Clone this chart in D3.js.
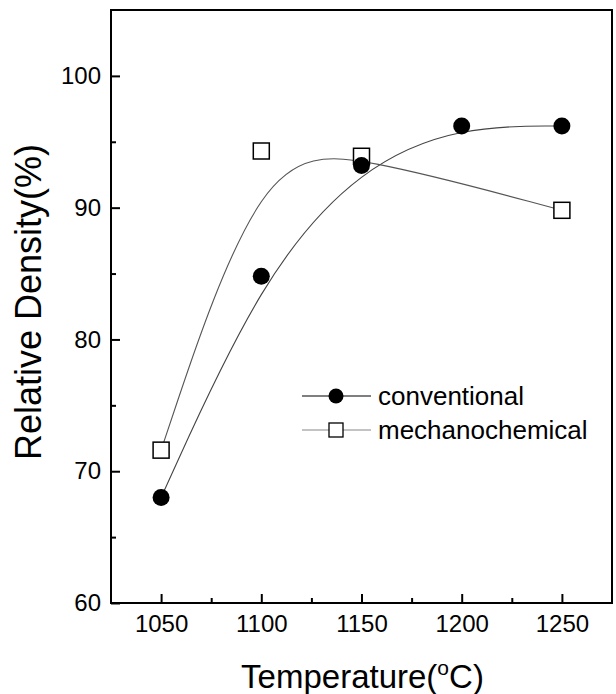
<!DOCTYPE html>
<html>
<head>
<meta charset="utf-8">
<script src="https://d3js.org/d3.v7.min.js"></script>
<style>
  body { margin: 0; background: #fff; }
  svg { display: block; font-family: Arial, "Liberation Sans", sans-serif; }
</style>
</head>
<body>
<div id="chart"></div>
<script>
// data
const temps = [1050, 1100, 1150, 1200, 1250];
const conventional = [68.0, 84.8, 93.2, 96.2, 96.2];
const mechTemps = [1050, 1100, 1150, 1250];
const mechanochemical = [71.6, 94.3, 93.9, 89.8];
const xTicks = [1050, 1100, 1150, 1200, 1250];
const yTicks = [60, 70, 80, 90, 100];

const width = 616, height = 694;
const margin = { top: 10, right: 4, bottom: 91, left: 111 };

const svg = d3.select("#chart").append("svg")
    .attr("width", width)
    .attr("height", height);

const x = d3.scaleLinear().domain([1025, 1275]).range([margin.left, width - margin.right]);
const y = d3.scaleLinear().domain([60, 105]).range([height - margin.bottom, margin.top]);

// minor ticks (inward)
const xMinor = d3.range(1075, 1275, 50);
const yMinor = d3.range(65, 105, 10);

const gx = svg.append("g")
    .attr("transform", `translate(0,${height - margin.bottom})`);
gx.call(d3.axisBottom(x).tickValues(xTicks).tickSize(-9).tickPadding(12).tickFormat(d3.format("d")));
gx.append("g").call(d3.axisBottom(x).tickValues(xMinor).tickSize(-5).tickFormat(""));

const gy = svg.append("g")
    .attr("transform", `translate(${margin.left},0)`);
gy.call(d3.axisLeft(y).tickValues(yTicks).tickSize(-9).tickPadding(10).tickFormat(d3.format("d")));
gy.append("g").call(d3.axisLeft(y).tickValues(yMinor).tickSize(-5).tickFormat(""));

svg.selectAll(".domain").remove();
svg.selectAll(".tick line").attr("stroke", "#000").attr("stroke-width", 2);
svg.selectAll(".tick text").attr("fill", "#000").style("font-size", "24px");

// frame
svg.append("rect")
    .attr("x", margin.left)
    .attr("y", margin.top)
    .attr("width", width - margin.left - margin.right)
    .attr("height", height - margin.top - margin.bottom)
    .attr("fill", "none")
    .attr("stroke", "#000")
    .attr("stroke-width", 2);

// smooth curves
const line = d3.line().x(d => x(d[0])).y(d => y(d[1])).curve(d3.curveBasis);
const convData = temps.map((t, i) => [t, conventional[i]]);
const mechData = mechTemps.map((t, i) => [t, mechanochemical[i]]);

svg.append("path")
    .datum(convData)
    .attr("d", line)
    .attr("fill", "none")
    .attr("stroke", "#444")
    .attr("stroke-width", 1.1);

svg.append("path")
    .datum(mechData)
    .attr("d", line)
    .attr("fill", "none")
    .attr("stroke", "#555")
    .attr("stroke-width", 1.1);

// markers
svg.append("g").selectAll("rect")
    .data(mechData)
    .join("rect")
    .attr("x", d => x(d[0]) - 8)
    .attr("y", d => y(d[1]) - 8)
    .attr("width", 16)
    .attr("height", 16)
    .attr("fill", "#fff")
    .attr("stroke", "#000")
    .attr("stroke-width", 1.5);

svg.append("g").selectAll("circle")
    .data(convData)
    .join("circle")
    .attr("cx", d => x(d[0]))
    .attr("cy", d => y(d[1]))
    .attr("r", 8.5)
    .attr("fill", "#000");

// legend
const legend = svg.append("g").attr("transform", "translate(302,396)");
legend.append("line").attr("x1", 0).attr("x2", 69).attr("y1", 0).attr("y2", 0)
    .attr("stroke", "#000").attr("stroke-width", 1.1);
legend.append("circle").attr("cx", 34).attr("cy", 0).attr("r", 7.5).attr("fill", "#000");
legend.append("text").attr("x", 76).attr("y", 9).text("conventional")
    .style("font-size", "26px");

legend.append("line").attr("x1", 0).attr("x2", 69).attr("y1", 34).attr("y2", 34)
    .attr("stroke", "#888").attr("stroke-width", 1.1);
legend.append("rect").attr("x", 27).attr("y", 27).attr("width", 14).attr("height", 14)
    .attr("fill", "#fff").attr("stroke", "#000").attr("stroke-width", 1.3);
legend.append("text").attr("x", 76).attr("y", 43).text("mechanochemical")
    .style("font-size", "26px");

// axis titles
const xt = svg.append("text")
    .attr("x", (margin.left + width - margin.right) / 2 + 1)
    .attr("y", 688)
    .attr("text-anchor", "middle")
    .style("font-size", "33px");
xt.append("tspan").text("Temperature(");
xt.append("tspan").text("o").attr("dy", -13).style("font-size", "21px");
xt.append("tspan").text("C)").attr("dy", 13);

svg.append("text")
    .attr("transform", "translate(41,302) rotate(-90)")
    .attr("text-anchor", "middle")
    .style("font-size", "36px")
    .text("Relative Density(%)");
</script>
</body>
</html>
